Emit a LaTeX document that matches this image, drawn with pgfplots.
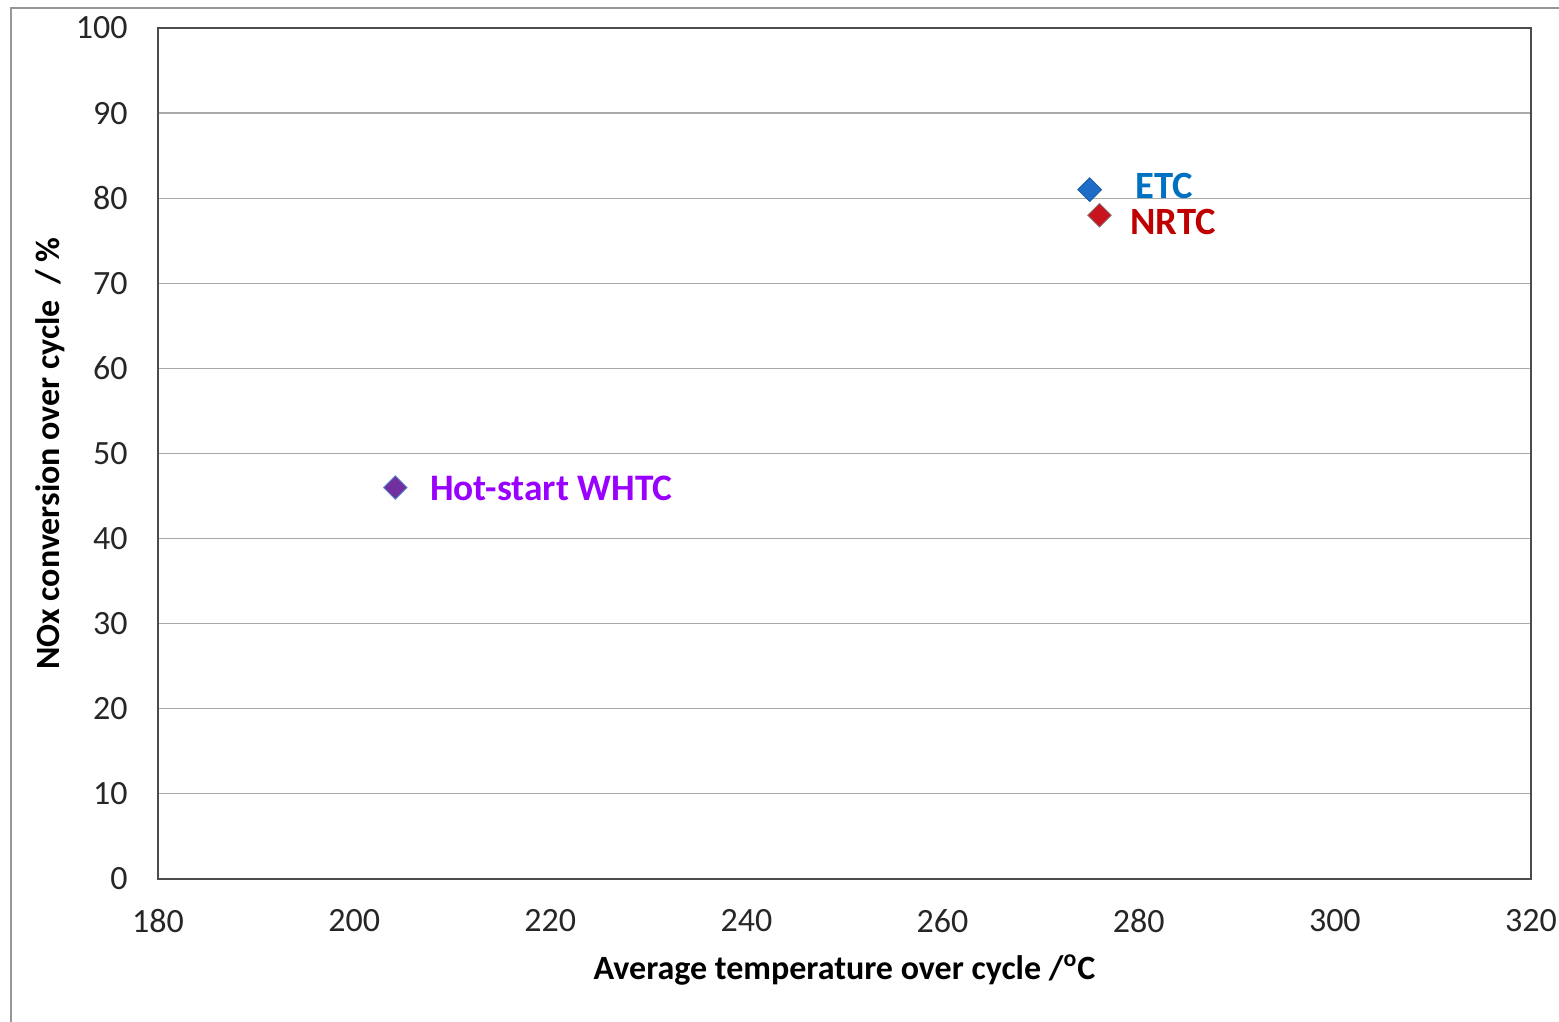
\documentclass[border=0pt]{standalone}
\usepackage{pgfplots}
\pgfplotsset{compat=1.18}
\usepackage{fontspec}
\setmainfont{Carlito}
\definecolor{etcblue}{RGB}{0,112,192}
\definecolor{etcmark}{RGB}{30,110,200}
\definecolor{nrtcred}{RGB}{192,0,0}
\definecolor{nrtcmark}{RGB}{200,20,30}
\definecolor{whtcpurple}{RGB}{153,0,255}
\definecolor{whtcmark}{RGB}{112,48,160}
\definecolor{framegray}{RGB}{150,150,150}
\definecolor{gridgray}{RGB}{170,170,170}
\begin{document}
\begin{tikzpicture}
\useasboundingbox (0,0) rectangle (779.5pt,511pt);
\draw[framegray, line width=0.6pt] (5.5pt,-5pt) -- (5.5pt,507pt) -- (790pt,507pt);
\begin{axis}[
  at={(79pt,71.5pt)}, anchor=south west,
  scale only axis, width=686.5pt, height=425.5pt,
  xmin=180, xmax=320, ymin=0, ymax=100,
  xtick={180,200,...,320}, ytick={0,10,...,100},
  major tick length=0pt,
  ymajorgrids, grid style={gridgray, line width=0.6pt},
  axis line style={black!70, line width=0.6pt},
  /pgf/number format/assume math mode=true,
  /pgf/number format/1000 sep={},
  tick label style={font=\fontsize{17}{20}\selectfont, text=black!85},
  yticklabel style={inner sep=0pt, anchor=east, xshift=-15pt},
  xticklabel style={inner sep=0pt, anchor=north, yshift=-15pt},
  every axis x label/.style={at={(axis description cs:0.5,0)}, anchor=center, yshift=-45.5pt},
  every axis y label/.style={at={(axis description cs:0,0.5)}, rotate=90, anchor=center, yshift=54pt},
  xlabel={\fontsize{17}{20}\selectfont\bfseries Average temperature over cycle /\textsuperscript{o}C},
  ylabel={\fontsize{17}{20}\selectfont\bfseries NOx conversion over cycle \ / \%},
  clip=false,
]
\addplot[only marks, mark=square*, mark size=4.2pt, mark options={rotate=45, fill=etcmark, draw=etcmark!80!black}] coordinates {(275,81)};
\addplot[only marks, mark=square*, mark size=4.2pt, mark options={rotate=45, fill=nrtcmark, draw=gray}] coordinates {(276,78)};
\addplot[only marks, mark=square*, mark size=4.2pt, mark options={rotate=45, fill=whtcmark, draw=etcmark!70}] coordinates {(204.2,46)};
\node[anchor=west, inner sep=0pt, text=etcblue, font=\fontsize{19.3}{22}\selectfont\bfseries] at (axis cs:279.6,81.4) {ETC};
\node[anchor=west, inner sep=0pt, text=nrtcred, font=\fontsize{19.3}{22}\selectfont\bfseries] at (axis cs:279.1,77.2) {NRTC};
\node[anchor=west, inner sep=0pt, text=whtcpurple, font=\fontsize{18.7}{22}\selectfont\bfseries] at (axis cs:207.7,45.9) {Hot-start WHTC};
\end{axis}
\end{tikzpicture}
\end{document}
